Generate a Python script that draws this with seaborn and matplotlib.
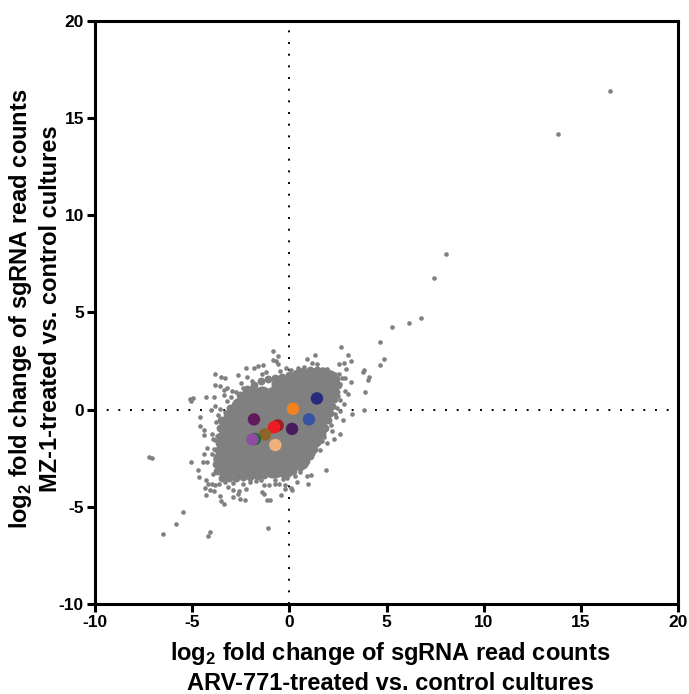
import matplotlib
matplotlib.use("Agg")
import matplotlib.pyplot as plt
import pandas as pd
import seaborn as sns

sns.set_style("white")
plt.rcParams['font.family'] = ['Liberation Sans', 'DejaVu Sans']
plt.rcParams['font.weight'] = 'bold'
plt.rcParams['axes.unicode_minus'] = False
plt.rcParams['mathtext.fontset'] = 'custom'
plt.rcParams['mathtext.bf'] = 'Liberation Sans:bold'
plt.rcParams['mathtext.rm'] = 'Liberation Sans:bold'

# single sgRNAs as (x, y), outside the solid cloud
tail_points = [(16.5, 16.4), (13.8, 14.2), (8.08, 8.03), (7.46, 6.8), (6.8, 4.73), (6.18, 4.48), (5.3, 4.27),
               (4.69, 3.5), (4.89, 2.62), (4.65, 2.28), (4.12, 1.68), (4.05, 1.51), (3.86, 2.06), (3.81, 1.92),
               (3.89, 0.89), (3.84, 0.0)]
right_points = [(2.68, 3.22), (3.02, 2.81), (3.19, 2.5), (2.57, 2.33), (2.83, 2.42), (2.93, 2.07), (3.19, 1.42),
                (2.85, 0.96), (3.02, 0.82), (2.81, 0.3), (2.59, -0.07), (3.22, -0.21), (2.74, -0.55), (2.42, -0.38),
                (2.16, -0.81), (2.62, -1.24), (2.3, -1.53), (1.77, -1.41), (1.68, -1.61), (1.58, -2.06),
                (1.87, -3.09), (2.88, 1.64), (2.71, 1.64), (2.6, 1.34), (2.54, 1.85), (2.37, 1.85), (1.94, 2.1),
                (1.17, -2.27), (2.5, 0.7), (2.6, 0.5), (2.45, 0.1), (2.35, -0.2), (2.2, -1.1), (1.95, -1.7)]
bottom_points = [(1.13, -3.38), (0.89, -3.43), (0.94, -3.81), (0.41, -3.74), (0.57, -3.21), (0.1, -4.02),
                 (0.15, -4.15), (-0.2, -3.9), (-0.24, -4.07), (-0.34, -3.55), (-0.41, -4.38), (-0.72, -3.64),
                 (-0.52, -3.81), (-0.72, -3.85), (-1.03, -3.9), (-1.32, -3.9), (-1.4, -4.24), (-1.32, -4.36),
                 (-1.17, -4.63), (-0.99, -4.67), (-1.08, -6.07), (-2.26, -4.67), (-2.52, -4.6), (-2.88, -4.48),
                 (-2.66, -4.32), (-2.61, -4.2), (-2.9, -4.12), (-2.21, -4.07), (-3.16, -3.98), (-3.55, -4.46),
                 (-3.52, -4.72), (-3.38, -4.87), (-3.81, -3.9), (-2.0, -3.7), (-1.7, -3.65), (-2.4, -3.8),
                 (-2.9, -3.75), (-3.3, -3.7), (-1.45, -3.6), (-3.6, -3.8), (0.3, -3.4), (-0.1, -3.5)]
left_points = [(-4.68, -3.12), (-4.65, -3.47), (-4.27, -3.64), (-4.19, -3.81), (-4.36, -4.02), (-4.08, -4.12),
               (-3.89, -4.19), (-4.27, -4.39), (-3.98, -3.81), (-4.24, -2.7), (-4.46, -2.7), (-4.37, -2.27),
               (-3.98, -2.27), (-4.24, -1.96), (-3.89, -2.0), (-3.94, -1.5), (-3.81, -1.58), (-3.72, -1.33),
               (-3.98, -1.23), (-4.41, -1.29), (-4.38, -1.07), (-4.62, -0.83), (-4.58, -0.39), (-5.04, -2.68),
               (-5.49, -5.25), (-5.85, -5.88), (-6.48, -6.38), (-4.08, -6.3), (-4.19, -6.52), (-7.24, -2.42),
               (-7.07, -2.49), (-5.08, 0.45), (-4.96, 0.58), (-5.1, 0.56), (-4.3, 0.65), (-3.88, 0.63), (-4.04, -0.03),
               (-3.8, 0.17), (-3.75, -2.8), (-3.95, -3.3), (-3.7, -3.1), (-3.85, -2.55), (-3.75, -0.65), (-3.65, -0.3),
               (-3.3, -0.1), (-3.55, 0.05)]
top_points = [(-3.84, 1.85), (-3.5, 1.68), (-3.33, 1.61), (-3.8, 1.25), (-3.57, 1.23), (-3.2, 1.13), (-3.36, 1.0),
              (-3.22, 0.45), (-3.0, 0.65), (-3.38, 0.75), (-2.95, 0.95), (-2.5, 1.35), (-2.64, 1.8), (-2.23, 2.13),
              (-1.84, 2.14), (-1.6, 2.23), (-1.37, 2.32), (-0.82, 3.0), (-0.58, 2.74), (-0.86, 2.57), (-0.69, 2.5),
              (-0.6, 2.33), (-0.15, 2.14), (0.91, 2.59), (1.34, 2.81), (0.74, 2.2), (1.17, 2.4), (1.42, 2.37),
              (1.68, 2.1), (-2.2, 1.7), (-1.9, 1.5), (-1.4, 1.85), (-1.2, 1.95), (-0.5, 2.0), (0.1, 2.05), (0.45, 2.15),
              (-2.4, 1.1), (-2.75, 0.9)]

# solid rim of the cloud, medium grey discs following its outline
rim_x = [-3.5, -3.04, -2.52, -2.16, -1.8, -1.44, -1.08, -0.72, -0.36, 0.0, 0.36, 0.72, 1.08, 1.44, 1.8, 2.16, 2.42,
         2.52, 2.42, 2.32, 2.21, 2.11, 2.01, 1.85, 1.7, 1.49, 1.29, 1.08, 0.87, 0.57, 0.21, -0.21, -0.57, -0.93,
         -1.29, -1.65, -2.01, -2.37, -2.73, -3.09, -3.45, -3.71, -3.76, -3.71, -3.65, -3.6, -3.55, -3.55]
rim_y = [-0.55, 0.07, 0.74, 1.04, 1.25, 1.46, 1.56, 1.61, 1.66, 1.77, 1.77, 1.97, 2.02, 2.02, 1.97, 1.82, 1.56,
         1.25, 0.89, 0.53, 0.17, -0.19, -0.55, -0.96, -1.27, -1.63, -2.0, -2.36, -2.66, -2.97, -3.18, -3.28, -3.28,
         -3.33, -3.38, -3.43, -3.48, -3.48, -3.54, -3.54, -3.54, -3.18, -2.81, -2.45, -2.1, -1.74, -1.37, -0.96]

# dense middle of the cloud, drawn as larger grey discs, one list per row
core_row_y = [1.66, 1.3, 0.74, 0.17, -0.4, -0.96, -1.53, -2.1, -2.66, -3.05]
core_row_x = [
    [0.57, 1.2, 1.85],
    [-0.46, 0.1, 0.7, 1.3, 1.9, 2.16],
    [-2.0, -1.4, -0.8, -0.2, 0.4, 1.0, 1.6, 1.96],
    [-2.52, -1.9, -1.3, -0.7, -0.1, 0.5, 1.1, 1.8],
    [-2.93, -2.3, -1.7, -1.1, -0.5, 0.1, 0.7, 1.3, 1.65],
    [-3.19, -2.6, -2.0, -1.4, -0.8, -0.2, 0.4, 1.0, 1.5],
    [-3.24, -2.6, -2.0, -1.4, -0.8, -0.2, 0.4, 1.0, 1.24],
    [-3.3, -2.7, -2.1, -1.5, -0.9, -0.3, 0.3, 0.93],
    [-3.4, -2.8, -2.2, -1.6, -1.0, -0.4, 0.2, 0.57],
    [-3.24, -2.6, -2.0, -1.4, -0.8, -0.2],
]

# highlighted sgRNAs
hit_x = [1.42, 0.19, 1.01, 0.14, -1.82, -0.6, -0.79, -1.25, -1.77, -1.9, -0.72]
hit_y = [0.58, 0.05, -0.5, -0.99, -0.5, -0.81, -0.91, -1.27, -1.51, -1.53, -1.82]
hit_colors = ["#27297A", "#F58220", "#3953A4", "#471D5E", "#611A5B", "#9E1F24", "#ED1C24", "#8F6428", "#1C6B38",
              "#8E4C9E", "#EDB27B"]

ticks = [-10, -5, 0, 5, 10, 15, 20]

guides = pd.DataFrame(tail_points + right_points + bottom_points + left_points + top_points, columns=["x", "y"])
rim = pd.DataFrame({"x": rim_x, "y": rim_y})
core = pd.DataFrame({"x": [v for row in core_row_x for v in row],
                     "y": [y for y, row in zip(core_row_y, core_row_x) for _ in row]})
hits = pd.DataFrame({"x": hit_x, "y": hit_y, "c": hit_colors})

fig, ax = plt.subplots(figsize=(6.89, 6.94), dpi=100)
fig.subplots_adjust(left=95 / 689, right=678 / 689, top=1 - 21 / 694, bottom=1 - 604 / 694)

ax.axhline(0, color="black", lw=1.4, ls=(0, (1, 5)), zorder=1)
ax.axvline(0, color="black", lw=1.4, ls=(0, (1, 5)), zorder=1)

sns.scatterplot(data=core, x="x", y="y", s=170, color="#808080", linewidth=0, ax=ax, zorder=2)
sns.scatterplot(data=rim, x="x", y="y", s=32, color="#808080", linewidth=0, ax=ax, zorder=2)
sns.scatterplot(data=guides, x="x", y="y", s=11, color="#808080", linewidth=0, ax=ax, zorder=2)
sns.scatterplot(data=hits, x="x", y="y", hue="c", palette=hit_colors, s=80, linewidth=0, legend=False, ax=ax, zorder=3)

ax.set_xlim(-10, 20)
ax.set_ylim(-10, 20)
ax.set_xticks(ticks)
ax.set_yticks(ticks)
ax.tick_params(axis="both", direction="out", length=6, width=2.2, color="black", left=True, bottom=True,
               labelsize=12.5, pad=2, labelcolor="black")
for spine in ax.spines.values():
    spine.set_visible(True)
    spine.set_linewidth(2.2)
    spine.set_color("black")

ax.set_xlabel("log$_{\\mathbf{2}}$ fold change of sgRNA read counts\nARV-771-treated vs. control cultures",
              fontsize=17, fontweight="bold", color="black", linespacing=1.25)
ax.set_ylabel("log$_{\\mathbf{2}}$ fold change of sgRNA read counts\nMZ-1-treated vs. control cultures",
              fontsize=17, fontweight="bold", color="black", linespacing=1.25)
ax.xaxis.set_label_coords(0.506, -0.062, transform=ax.transAxes)
ax.yaxis.set_label_coords(-0.057, 0.507, transform=ax.transAxes)

plt.savefig("out.png", dpi=100)
plt.close()
